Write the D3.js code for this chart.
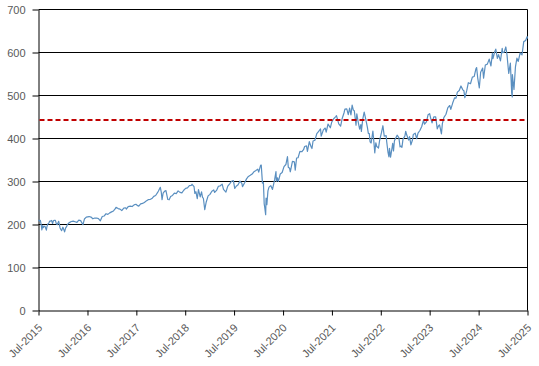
<!DOCTYPE html>
<html>
<head>
<meta charset="utf-8">
<script src="https://cdn.jsdelivr.net/npm/d3@7"></script>
<style>
  body { margin: 0; background: #fff; }
  svg text { font-family: "Liberation Sans", Arial, sans-serif; font-size: 11px; fill: #595959; }
</style>
</head>
<body>
<div id="chart"></div>
<script>
const W = 539, H = 366;

// price series (date, close)
const PRICES = [
  ["2015-07-31",210.5],["2015-08-07",207.9],["2015-08-14",209.4],["2015-08-21",197.6],["2015-08-25",187.3],
  ["2015-08-31",197.7],["2015-09-04",192.6],["2015-09-11",196.0],["2015-09-18",195.5],["2015-09-28",186.9],
  ["2015-10-02",195.0],["2015-10-09",201.3],["2015-10-16",203.3],["2015-10-23",208.0],["2015-10-30",207.9],
  ["2015-11-06",209.3],["2015-11-13",202.4],["2015-11-20",209.3],["2015-11-27",209.6],["2015-12-04",209.6],
  ["2015-12-11",201.9],["2015-12-18",200.0],["2015-12-29",207.4],
  ["2016-01-08",192.0],["2016-01-15",188.1],["2016-01-20",185.7],["2016-01-29",193.7],["2016-02-05",188.2],
  ["2016-02-11",182.9],["2016-02-19",192.0],["2016-02-26",195.1],["2016-03-04",200.4],["2016-03-11",202.8],
  ["2016-03-18",204.4],["2016-04-01",206.9],["2016-04-15",207.8],["2016-04-29",206.3],["2016-05-13",204.8],
  ["2016-05-27",210.2],["2016-06-10",209.0],["2016-06-27",199.6],["2016-07-08",212.7],["2016-07-22",217.2],
  ["2016-08-12",218.5],["2016-08-26",217.3],["2016-09-09",213.3],["2016-09-23",215.0],["2016-10-07",215.0],
  ["2016-10-21",213.7],["2016-11-04",208.6],["2016-11-18",218.5],["2016-12-02",219.7],["2016-12-16",225.0],
  ["2016-12-30",223.5],
  ["2017-01-13",227.1],["2017-01-27",229.4],["2017-02-10",231.5],["2017-02-24",236.7],["2017-03-01",239.8],
  ["2017-03-17",237.0],["2017-03-31",235.7],["2017-04-13",232.5],["2017-04-28",238.1],["2017-05-12",239.0],
  ["2017-05-17",235.8],["2017-05-31",241.4],["2017-06-16",242.6],["2017-06-30",241.8],["2017-07-14",245.6],
  ["2017-07-28",247.1],["2017-08-10",243.8],["2017-08-18",242.7],["2017-09-01",247.8],["2017-09-15",249.2],
  ["2017-09-29",251.2],["2017-10-13",254.9],["2017-10-27",257.7],["2017-11-10",258.1],["2017-11-24",260.4],
  ["2017-12-08",265.5],["2017-12-22",267.5],
  ["2018-01-05",274.0],["2018-01-12",277.9],["2018-01-26",286.6],["2018-02-02",275.5],["2018-02-08",257.6],
  ["2018-02-16",273.1],["2018-02-26",277.0],["2018-03-09",278.9],["2018-03-23",258.1],["2018-04-02",257.5],
  ["2018-04-13",265.2],["2018-04-27",267.5],["2018-05-11",272.8],["2018-05-25",272.0],["2018-06-08",278.2],
  ["2018-06-22",274.7],["2018-07-06",273.4],["2018-07-20",279.7],["2018-08-03",284.0],["2018-08-17",285.1],
  ["2018-08-31",290.3],["2018-09-14",290.9],["2018-09-20",293.6],["2018-10-05",287.8],["2018-10-11",272.2],
  ["2018-10-19",276.2],["2018-10-29",259.9],["2018-11-07",281.0],["2018-11-20",264.1],["2018-11-30",276.0],
  ["2018-12-07",263.6],["2018-12-14",260.5],["2018-12-24",234.3],
  ["2019-01-04",252.4],["2019-01-18",266.5],["2019-02-01",270.1],["2019-02-15",277.4],["2019-03-01",280.4],
  ["2019-03-08",274.5],["2019-03-22",279.3],["2019-04-05",289.0],["2019-04-19",290.0],["2019-05-03",294.0],
  ["2019-05-13",281.5],["2019-05-31",275.3],["2019-06-14",289.3],["2019-06-28",294.7],["2019-07-12",300.6],
  ["2019-07-26",302.0],["2019-08-05",283.8],["2019-08-16",288.9],["2019-08-30",292.5],["2019-09-13",301.1],
  ["2019-09-27",295.4],["2019-10-02",288.1],["2019-10-18",297.0],["2019-11-01",306.1],["2019-11-15",311.8],
  ["2019-11-29",314.3],["2019-12-13",317.3],["2019-12-27",322.9],
  ["2020-01-10",325.7],["2020-01-24",328.8],["2020-01-31",321.7],["2020-02-14",337.6],["2020-02-19",338.3],
  ["2020-02-28",296.3],["2020-03-06",297.5],["2020-03-09",274.2],["2020-03-12",248.1],["2020-03-16",239.9],
  ["2020-03-23",222.9],["2020-03-26",261.2],["2020-04-01",246.2],["2020-04-09",278.2],["2020-04-17",287.0],
  ["2020-04-30",290.5],["2020-05-13",281.6],["2020-05-29",304.3],["2020-06-08",323.2],["2020-06-11",300.6],
  ["2020-06-19",308.6],["2020-06-26",300.1],["2020-07-10",317.6],["2020-07-24",320.9],["2020-08-07",334.6],
  ["2020-08-21",339.5],["2020-09-02",357.7],["2020-09-08",333.2],["2020-09-18",330.7],["2020-09-23",322.6],
  ["2020-10-09",346.9],["2020-10-23",345.8],["2020-10-30",326.5],["2020-11-09",354.6],["2020-11-20",355.3],
  ["2020-12-04",369.9],["2020-12-18",369.2],["2020-12-31",373.9],
  ["2021-01-08",381.3],["2021-01-22",382.9],["2021-01-29",370.1],["2021-02-12",392.6],["2021-02-26",380.4],
  ["2021-03-04",376.7],["2021-03-12",394.1],["2021-03-26",395.9],["2021-04-09",411.5],["2021-04-23",416.7],
  ["2021-05-07",422.1],["2021-05-12",405.4],["2021-05-28",420.0],["2021-06-11",424.3],["2021-06-18",414.9],
  ["2021-07-02",433.7],["2021-07-19",424.9],["2021-07-30",438.5],["2021-08-13",445.9],["2021-08-27",450.3],
  ["2021-09-03",453.1],["2021-09-20",434.0],["2021-10-04",428.6],["2021-10-15",445.9],["2021-10-29",459.3],
  ["2021-11-05",468.5],["2021-11-19",468.9],["2021-11-30",455.6],["2021-12-10",470.7],["2021-12-20",454.9],
  ["2021-12-29",477.5],
  ["2022-01-07",466.1],["2022-01-14",464.7],["2022-01-27",431.2],["2022-02-02",457.4],["2022-02-11",440.5],
  ["2022-02-23",421.9],["2022-03-04",432.2],["2022-03-08",416.3],["2022-03-18",444.5],["2022-03-29",461.6],
  ["2022-04-08",447.6],["2022-04-22",426.0],["2022-04-29",412.0],["2022-05-06",411.3],["2022-05-12",392.3],
  ["2022-05-20",389.6],["2022-06-02",417.4],["2022-06-10",389.8],["2022-06-16",366.7],["2022-06-24",390.1],
  ["2022-07-01",381.2],["2022-07-14",377.9],["2022-07-22",395.1],["2022-08-05",413.5],["2022-08-16",429.7],
  ["2022-08-26",405.3],["2022-09-09",406.6],["2022-09-13",393.1],["2022-09-23",367.9],["2022-09-30",357.2],
  ["2022-10-04",377.1],["2022-10-12",356.6],["2022-10-21",374.3],["2022-10-28",389.0],["2022-11-03",371.0],
  ["2022-11-10",394.7],["2022-11-30",407.7],["2022-12-13",401.9],["2022-12-22",380.7],["2022-12-30",382.4],
  ["2023-01-05",379.4],["2023-01-13",398.5],["2023-01-27",405.7],["2023-02-02",416.8],["2023-02-10",408.0],
  ["2023-02-24",396.4],["2023-03-03",404.2],["2023-03-13",385.4],["2023-03-24",395.8],["2023-03-31",409.4],
  ["2023-04-14",412.5],["2023-04-25",399.4],["2023-05-05",412.6],["2023-05-19",418.6],["2023-06-02",427.9],
  ["2023-06-15",442.6],["2023-06-23",433.2],["2023-07-07",438.6],["2023-07-19",455.2],["2023-07-31",457.8],
  ["2023-08-09",445.8],["2023-08-18",436.5],["2023-08-31",450.4],["2023-09-14",450.4],["2023-09-26",422.5],
  ["2023-10-06",429.5],["2023-10-13",431.5],["2023-10-27",410.7],["2023-11-03",434.7],["2023-11-14",448.7],
  ["2023-11-30",456.4],["2023-12-14",472.0],["2023-12-28",476.7],
  ["2024-01-05",467.9],["2024-01-19",482.4],["2024-02-02",494.4],["2024-02-13",494.1],["2024-02-23",507.9],
  ["2024-03-08",511.7],["2024-03-21",522.2],["2024-04-04",513.1],["2024-04-12",510.9],["2024-04-19",495.2],
  ["2024-05-03",511.3],["2024-05-15",529.8],["2024-05-31",527.4],["2024-06-14",542.8],["2024-06-28",544.2],
  ["2024-07-10",561.3],["2024-07-16",564.9],["2024-07-24",541.2],["2024-08-05",517.4],["2024-08-15",554.0],
  ["2024-08-30",563.7],["2024-09-06",540.4],["2024-09-19",570.9],["2024-10-04",572.9],["2024-10-18",584.6],
  ["2024-10-31",568.6],["2024-11-11",598.8],["2024-11-15",585.8],["2024-11-29",602.6],["2024-12-06",607.8],
  ["2024-12-18",586.3],["2024-12-27",595.0],
  ["2025-01-10",580.5],["2025-01-23",609.8],["2025-01-27",599.4],["2025-02-07",600.8],["2025-02-19",612.9],
  ["2025-02-28",594.2],["2025-03-10",560.6],["2025-03-13",551.4],["2025-03-25",575.5],["2025-04-04",505.3],
  ["2025-04-08",496.5],["2025-04-09",548.6],["2025-04-21",513.9],["2025-05-02",566.8],["2025-05-13",586.8],
  ["2025-05-23",579.1],["2025-06-06",599.1],["2025-06-20",594.3],["2025-07-03",625.3],["2025-07-17",628.0],
  ["2025-07-28",636.9],["2025-07-31",632.1]
];

const REF_LEVEL = 443;
const X_DOMAIN = ["2015-07-31", "2025-07-31"];
const X_TICKS = ["2015-07-31","2016-07-31","2017-07-31","2018-07-31","2019-07-31","2020-07-31",
                 "2021-07-31","2022-07-31","2023-07-31","2024-07-31","2025-07-31"];
const Y_TICKS = [0, 100, 200, 300, 400, 500, 600, 700];

const parse = d3.timeParse("%Y-%m-%d");
const fmt = d3.timeFormat("%b-%Y");

const x = d3.scaleTime().domain(X_DOMAIN.map(parse)).range([38.5, 527.5]);
const y = d3.scaleLinear().domain([0, 700]).range([310.5, 9.5]);

const svg = d3.select("#chart").append("svg").attr("width", W).attr("height", H);

// gridlines
svg.append("g")
   .selectAll("line")
   .data(Y_TICKS.slice(1))
   .enter()
   .append("line")
   .attr("x1", x.range()[0]).attr("x2", x.range()[1])
   .attr("y1", (d) => y(d)).attr("y2", (d) => y(d))
   .attr("stroke", "#000").attr("stroke-width", 1);

// right border
svg.append("line")
   .attr("x1", x.range()[1]).attr("x2", x.range()[1])
   .attr("y1", y(700)).attr("y2", y(0))
   .attr("stroke", "#000");

// y axis
const yAxis = svg.append("g")
   .attr("transform", "translate(" + x.range()[0] + ",0)")
   .call(d3.axisLeft(y).tickValues(Y_TICKS).tickSize(6).tickPadding(7).tickSizeOuter(0));
yAxis.select(".domain").attr("stroke", "#000");
yAxis.selectAll(".tick line").attr("stroke", "#000");
yAxis.selectAll("text").attr("font-family", null).attr("font-size", null).attr("fill", null);

// x axis
const xAxis = svg.append("g")
   .attr("transform", "translate(0," + y(0) + ")")
   .call(d3.axisBottom(x).tickValues(X_TICKS.map(parse)).tickFormat(fmt).tickSize(5).tickSizeOuter(0));
xAxis.select(".domain").attr("stroke", "#000");
xAxis.selectAll(".tick line").attr("stroke", "#000");
xAxis.selectAll("text")
     .attr("font-family", null).attr("font-size", null).attr("fill", null)
     .attr("text-anchor", "end")
     .attr("y", 0).attr("dy", 0)
     .attr("transform", "translate(4,18) rotate(-45)");

// price line
const line = d3.line()
   .x((d) => x(parse(d[0])))
   .y((d) => y(d[1]));
svg.append("path")
   .datum(PRICES)
   .attr("d", line)
   .attr("fill", "none")
   .attr("stroke", "#5a8fc0")
   .attr("stroke-width", 1.2)
   .attr("stroke-linejoin", "round");

// reference level
svg.append("line")
   .attr("x1", x.range()[0] + 1).attr("x2", x.range()[1])
   .attr("y1", y(REF_LEVEL)).attr("y2", y(REF_LEVEL))
   .attr("stroke", "#c00000")
   .attr("stroke-width", 2)
   .attr("stroke-dasharray", "5,3");
</script>
</body>
</html>
